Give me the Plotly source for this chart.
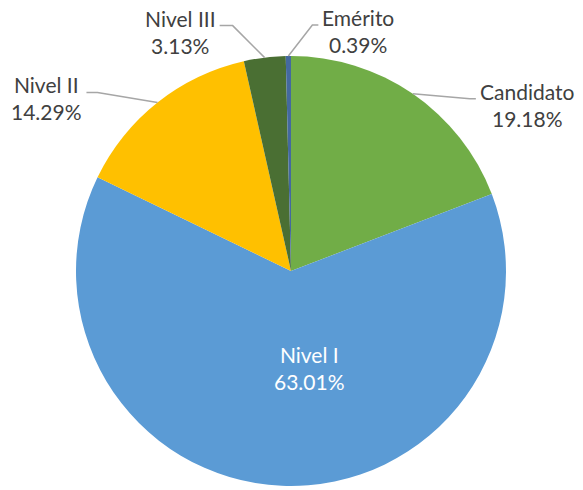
import math
import plotly.graph_objects as go

categories = ["Candidato", "Nivel I", "Nivel II", "Nivel III", "Emérito"]
values = [19.18, 63.01, 14.29, 3.13, 0.39]
colors = ["#71AD47", "#5B9BD5", "#FFC000", "#4A6F33", "#44699F"]

W, H = 583, 490
L, R, T, B = 76, 77, 56, 4
pw, ph = W - L - R, H - T - B
cx, cy, rad = L + pw / 2, T + ph / 2, min(pw, ph) / 2

def px2paper(x, y):
    return (x - L) / pw, (H - B - y) / ph

fig = go.Figure(go.Pie(
    labels=categories, values=values, sort=False, direction="clockwise",
    rotation=0, marker=dict(colors=colors, line=dict(width=0)),
    textinfo="none", hoverinfo="label+percent", showlegend=False,
))

# label style: (dx elbow, dy elbow, horizontal run, text anchor side)
style = {
    "Candidato": dict(elbow=(57, 5), run=6, side="left"),
    "Nivel II": dict(elbow=(-60, -10), run=-11, side="right"),
    "Nivel III": dict(elbow=(-32, -32), run=-13, side="right"),
    "Emérito": dict(elbow=(24, -31), run=6, side="left"),
}
FONT = "Lato, Carlito, sans-serif"
font_out = dict(family=FONT, size=21, color="#404040")
total = sum(values)
cum = 0
shapes, annotations = [], []
for cat, v in zip(categories, values):
    mid = (cum + v / 2) / total * 2 * math.pi
    cum += v
    pct = f"{v:.2f}%"
    if cat == "Nivel I":
        tx, ty = cx + 18, cy + 97
        ax, ay = px2paper(tx, ty)
        annotations.append(dict(x=ax, y=ay, xref="paper", yref="paper", showarrow=False,
                                xanchor="center", yanchor="middle",
                                text=f"{cat}<br>{pct}", align="center",
                                font=dict(family=FONT, size=21, color="white")))
        continue
    st = style[cat]
    ex, ey = cx + rad * math.sin(mid), cy - rad * math.cos(mid)
    bx, by = ex + st["elbow"][0], ey + st["elbow"][1]
    fx, fy = bx + st["run"], by
    pts = [px2paper(ex, ey), px2paper(bx, by), px2paper(fx, fy)]
    path = "M {} {} L {} {} L {} {}".format(*[c for p in pts for c in p])
    shapes.append(dict(type="path", path=path, xref="paper", yref="paper",
                       line=dict(color="#A6A6A6", width=1.5)))
    lx, ly = pts[2]
    if st["side"] == "left":
        xanchor, dx = "left", 2
    else:
        xanchor, dx = "right", -2
    annotations.append(dict(x=lx, y=ly, xref="paper", yref="paper", showarrow=False,
                            xanchor=xanchor, yanchor="top", xshift=dx, yshift=22,
                            text=f"{cat}<br>{pct}", align="center", font=font_out))

fig.update_layout(
    width=W, height=H, margin=dict(l=L, r=R, t=T, b=B),
    paper_bgcolor="white", plot_bgcolor="white",
    shapes=shapes, annotations=annotations,
)
fig.write_html("out.html", config={"displayModeBar": False},
               post_script="document.body.style.margin='0';document.body.style.padding='0';")
